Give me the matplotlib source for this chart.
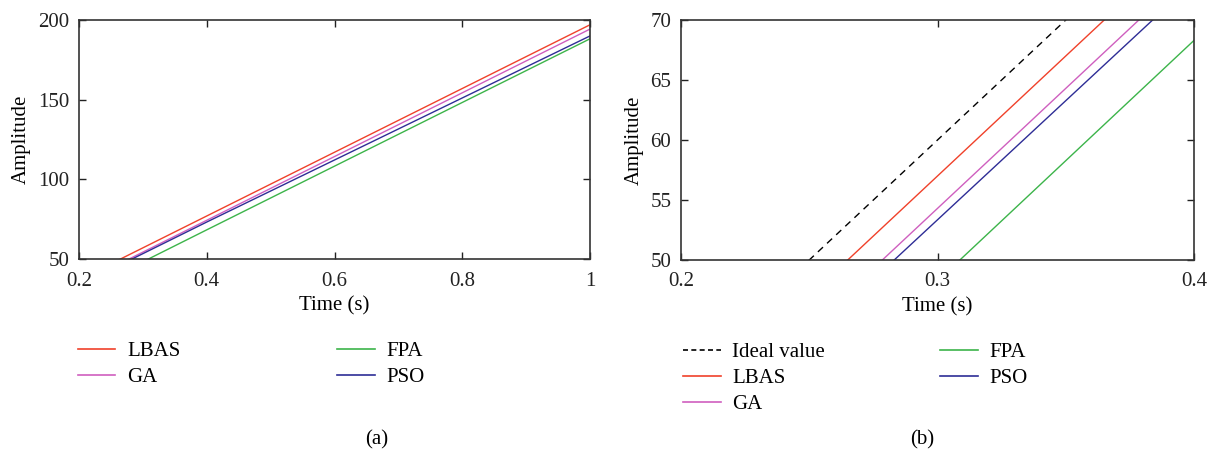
import matplotlib
matplotlib.use("Agg")
import matplotlib.pyplot as plt
from matplotlib.lines import Line2D

# time points (s) and amplitudes
t = [0.2, 0.4, 1.0]
ideal = [40.0, 80.0, 200.0]
lbas = [37.0, 77.0, 197.0]
ga = [34.3, 74.3, 194.3]
fpa = [28.2, 68.3, 188.2]
pso = [33.5, 73.2, 190.0]

c_ideal = 'black'
c_lbas = '#f0412a'
c_ga = '#cf5fbf'
c_fpa = '#3cb44a'
c_pso = '#2e2d96'

plt.rcParams['font.family'] = ['Liberation Serif', 'DejaVu Serif']
plt.rcParams['font.size'] = 15

fig = plt.figure(figsize=(12.18, 4.55), dpi=100)
ax1 = fig.add_axes([79 / 1218, 196 / 455, 511 / 1218, 239 / 455])
ax2 = fig.add_axes([681 / 1218, 195 / 455, 513 / 1218, 240 / 455])

lw = 1.0
ax1.plot(t, lbas, color=c_lbas, lw=lw)
ax1.plot(t, ga, color=c_ga, lw=lw)
ax1.plot(t, fpa, color=c_fpa, lw=lw)
ax1.plot(t, pso, color=c_pso, lw=lw)
ax1.set_xlim(0.2, 1)
ax1.set_ylim(50, 200)
ax1.set_xticks([0.2, 0.4, 0.6, 0.8, 1])
ax1.set_xticklabels(['0.2', '0.4', '0.6', '0.8', '1'])
ax1.set_yticks([50, 100, 150, 200])

ax2.plot(t, ideal, color=c_ideal, lw=lw, ls=(0, (5, 4)))
ax2.plot(t, lbas, color=c_lbas, lw=lw)
ax2.plot(t, ga, color=c_ga, lw=lw)
ax2.plot(t, fpa, color=c_fpa, lw=lw)
ax2.plot(t, pso, color=c_pso, lw=lw)
ax2.set_xlim(0.2, 0.4)
ax2.set_ylim(50, 70)
ax2.set_xticks([0.2, 0.3, 0.4])
ax2.set_yticks([50, 55, 60, 65, 70])

for ax in (ax1, ax2):
    ax.tick_params(direction='in', top=True, right=True, length=5, width=1,
                   pad=7, labelsize=15, colors='#222222')
    ax.tick_params(axis='x', pad=9)
    for s in ax.spines.values():
        s.set_linewidth(1.2)
        s.set_color('#333333')
    ax.set_xlabel('Time (s)', fontsize=15, labelpad=4)
    ax.set_ylabel('Amplitude', fontsize=15, labelpad=5)


def h(color, ls='-'):
    return Line2D([], [], color=color, lw=1.2, ls=ls)


leg_kw = dict(frameon=False, loc='upper left', borderpad=0, borderaxespad=0,
              handlelength=1.8, handletextpad=0.55, labelspacing=0.3, fontsize=15)

la = ax1.legend([h(c_lbas), h(c_ga)], ['LBAS', 'GA'],
                bbox_to_anchor=(-0.002, -0.345), **leg_kw)
ax1.add_artist(la)
ax1.legend([h(c_fpa), h(c_pso)], ['FPA', 'PSO'],
           bbox_to_anchor=(0.505, -0.345), **leg_kw)

lb = ax2.legend([h(c_ideal, (0, (3, 2))), h(c_lbas), h(c_ga)],
                ['Ideal value', 'LBAS', 'GA'],
                bbox_to_anchor=(0.004, -0.345), **leg_kw)
ax2.add_artist(lb)
ax2.legend([h(c_fpa), h(c_pso)], ['FPA', 'PSO'],
           bbox_to_anchor=(0.505, -0.345), **leg_kw)

fig.text(377 / 1218, 15 / 455, '(a)', ha='center', va='center', fontsize=15)
fig.text(922 / 1218, 15 / 455, '(b)', ha='center', va='center', fontsize=15)

fig.savefig('out.png', dpi=100)
